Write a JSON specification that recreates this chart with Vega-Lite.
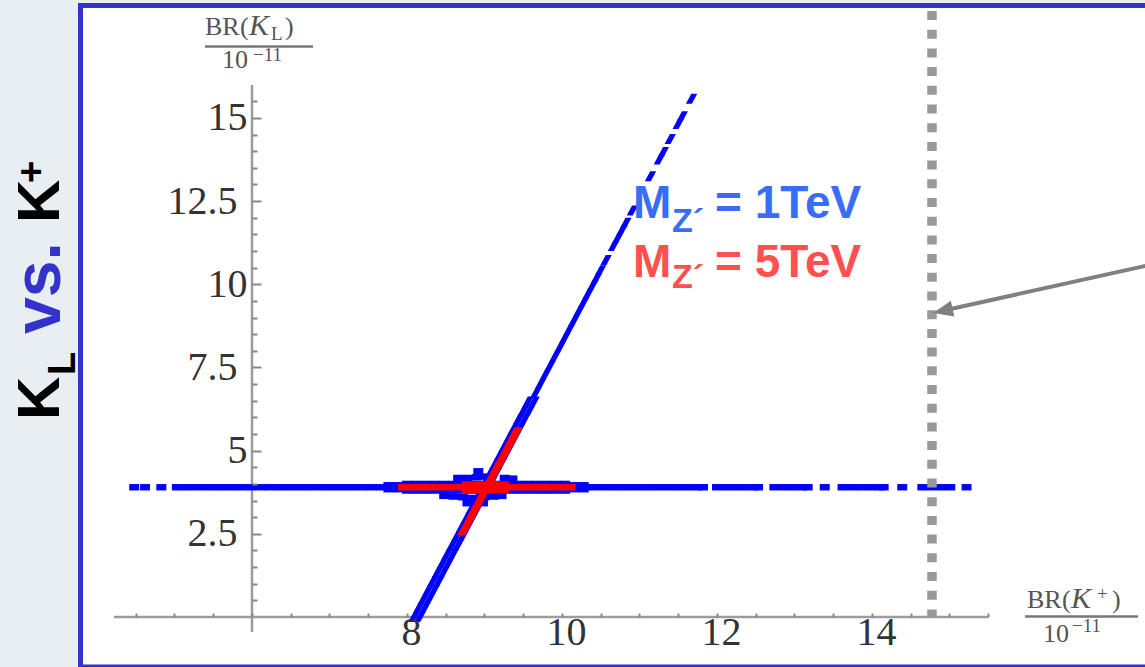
{
"$schema": "https://vega.github.io/schema/vega-lite/v6.json",
"width": 1145, "height": 667, "autosize": {"type": "none"}, "padding": 0,
"background": "#e8eef1",
"config": {"view": {"stroke": null}},
"resolve": {"axis": {"y": "independent"}},
"datasets": {
"pts": [
{"x":4.48,"y":3.9,"m":"1 TeV","b":"h"},{"x":4.62,"y":3.9,"m":"1 TeV","b":"h"},{"x":4.83,"y":3.9,"m":"1 TeV","b":"h"},{"x":5.03,"y":3.9,"m":"1 TeV","b":"h"},{"x":5.15,"y":3.9,"m":"1 TeV","b":"h"},{"x":5.27,"y":3.9,"m":"1 TeV","b":"h"},{"x":5.39,"y":3.9,"m":"1 TeV","b":"h"},{"x":5.51,"y":3.9,"m":"1 TeV","b":"h"},{"x":5.63,"y":3.9,"m":"1 TeV","b":"h"},{"x":5.75,"y":3.9,"m":"1 TeV","b":"h"},{"x":5.87,"y":3.9,"m":"1 TeV","b":"h"},{"x":5.99,"y":3.9,"m":"1 TeV","b":"h"},{"x":6.11,"y":3.9,"m":"1 TeV","b":"h"},{"x":6.23,"y":3.9,"m":"1 TeV","b":"h"},{"x":6.35,"y":3.9,"m":"1 TeV","b":"h"},{"x":6.47,"y":3.9,"m":"1 TeV","b":"h"},{"x":6.59,"y":3.9,"m":"1 TeV","b":"h"},{"x":6.71,"y":3.9,"m":"1 TeV","b":"h"},{"x":6.83,"y":3.9,"m":"1 TeV","b":"h"},{"x":6.95,"y":3.9,"m":"1 TeV","b":"h"},{"x":7.07,"y":3.9,"m":"1 TeV","b":"h"},{"x":7.19,"y":3.9,"m":"1 TeV","b":"h"},{"x":7.31,"y":3.9,"m":"1 TeV","b":"h"},{"x":7.43,"y":3.9,"m":"1 TeV","b":"h"},{"x":7.55,"y":3.9,"m":"1 TeV","b":"h"},{"x":7.67,"y":3.9,"m":"1 TeV","b":"h"},{"x":7.79,"y":3.9,"m":"1 TeV","b":"h"},{"x":7.91,"y":3.9,"m":"1 TeV","b":"h"},{"x":8.03,"y":3.9,"m":"1 TeV","b":"h"},{"x":8.15,"y":3.9,"m":"1 TeV","b":"h"},{"x":8.27,"y":3.9,"m":"1 TeV","b":"h"},{"x":8.39,"y":3.9,"m":"1 TeV","b":"h"},{"x":8.51,"y":3.9,"m":"1 TeV","b":"h"},{"x":8.63,"y":3.9,"m":"1 TeV","b":"h"},{"x":8.75,"y":3.9,"m":"1 TeV","b":"h"},{"x":8.87,"y":3.9,"m":"1 TeV","b":"h"},{"x":8.99,"y":3.9,"m":"1 TeV","b":"h"},{"x":9.11,"y":3.9,"m":"1 TeV","b":"h"},{"x":9.23,"y":3.9,"m":"1 TeV","b":"h"},{"x":9.35,"y":3.9,"m":"1 TeV","b":"h"},{"x":9.47,"y":3.9,"m":"1 TeV","b":"h"},{"x":9.59,"y":3.9,"m":"1 TeV","b":"h"},{"x":9.71,"y":3.9,"m":"1 TeV","b":"h"},{"x":9.83,"y":3.9,"m":"1 TeV","b":"h"},{"x":9.95,"y":3.9,"m":"1 TeV","b":"h"},{"x":10.07,"y":3.9,"m":"1 TeV","b":"h"},{"x":10.19,"y":3.9,"m":"1 TeV","b":"h"},{"x":10.31,"y":3.9,"m":"1 TeV","b":"h"},{"x":10.43,"y":3.9,"m":"1 TeV","b":"h"},{"x":10.55,"y":3.9,"m":"1 TeV","b":"h"},{"x":10.67,"y":3.9,"m":"1 TeV","b":"h"},{"x":10.79,"y":3.9,"m":"1 TeV","b":"h"},{"x":10.91,"y":3.9,"m":"1 TeV","b":"h"},{"x":11.03,"y":3.9,"m":"1 TeV","b":"h"},{"x":11.15,"y":3.9,"m":"1 TeV","b":"h"},{"x":11.27,"y":3.9,"m":"1 TeV","b":"h"},{"x":11.39,"y":3.9,"m":"1 TeV","b":"h"},{"x":11.51,"y":3.9,"m":"1 TeV","b":"h"},{"x":11.63,"y":3.9,"m":"1 TeV","b":"h"},{"x":11.75,"y":3.9,"m":"1 TeV","b":"h"},{"x":11.82,"y":3.9,"m":"1 TeV","b":"h"},{"x":12.0,"y":3.9,"m":"1 TeV","b":"h"},{"x":12.12,"y":3.9,"m":"1 TeV","b":"h"},{"x":12.24,"y":3.9,"m":"1 TeV","b":"h"},{"x":12.36,"y":3.9,"m":"1 TeV","b":"h"},{"x":12.48,"y":3.9,"m":"1 TeV","b":"h"},{"x":12.53,"y":3.9,"m":"1 TeV","b":"h"},{"x":12.74,"y":3.9,"m":"1 TeV","b":"h"},{"x":12.86,"y":3.9,"m":"1 TeV","b":"h"},{"x":12.98,"y":3.9,"m":"1 TeV","b":"h"},{"x":13.1,"y":3.9,"m":"1 TeV","b":"h"},{"x":13.17,"y":3.9,"m":"1 TeV","b":"h"},{"x":13.39,"y":3.9,"m":"1 TeV","b":"h"},{"x":13.62,"y":3.9,"m":"1 TeV","b":"h"},{"x":13.74,"y":3.9,"m":"1 TeV","b":"h"},{"x":13.86,"y":3.9,"m":"1 TeV","b":"h"},{"x":13.98,"y":3.9,"m":"1 TeV","b":"h"},{"x":14.1,"y":3.9,"m":"1 TeV","b":"h"},{"x":14.15,"y":3.9,"m":"1 TeV","b":"h"},{"x":14.39,"y":3.9,"m":"1 TeV","b":"h"},{"x":14.65,"y":3.9,"m":"1 TeV","b":"h"},{"x":14.77,"y":3.9,"m":"1 TeV","b":"h"},{"x":14.89,"y":3.9,"m":"1 TeV","b":"h"},{"x":15.01,"y":3.9,"m":"1 TeV","b":"h"},{"x":15.22,"y":3.9,"m":"1 TeV","b":"h"},
{"x":8.0,"y":4.0,"m":"1 TeV","b":"h"},{"x":8.12,"y":4.0,"m":"1 TeV","b":"h"},{"x":8.24,"y":4.0,"m":"1 TeV","b":"h"},{"x":8.36,"y":4.0,"m":"1 TeV","b":"h"},{"x":8.48,"y":4.0,"m":"1 TeV","b":"h"},{"x":8.6,"y":4.0,"m":"1 TeV","b":"h"},{"x":8.72,"y":4.0,"m":"1 TeV","b":"h"},{"x":8.84,"y":4.0,"m":"1 TeV","b":"h"},{"x":8.96,"y":4.0,"m":"1 TeV","b":"h"},{"x":9.08,"y":4.0,"m":"1 TeV","b":"h"},{"x":9.2,"y":4.0,"m":"1 TeV","b":"h"},{"x":9.32,"y":4.0,"m":"1 TeV","b":"h"},{"x":9.44,"y":4.0,"m":"1 TeV","b":"h"},{"x":9.56,"y":4.0,"m":"1 TeV","b":"h"},{"x":9.68,"y":4.0,"m":"1 TeV","b":"h"},{"x":9.8,"y":4.0,"m":"1 TeV","b":"h"},{"x":9.92,"y":4.0,"m":"1 TeV","b":"h"},{"x":10.04,"y":4.0,"m":"1 TeV","b":"h"},
{"x":8.0,"y":3.8,"m":"1 TeV","b":"h"},{"x":8.12,"y":3.8,"m":"1 TeV","b":"h"},{"x":8.24,"y":3.8,"m":"1 TeV","b":"h"},{"x":8.36,"y":3.8,"m":"1 TeV","b":"h"},{"x":8.48,"y":3.8,"m":"1 TeV","b":"h"},{"x":8.6,"y":3.8,"m":"1 TeV","b":"h"},{"x":8.72,"y":3.8,"m":"1 TeV","b":"h"},{"x":8.84,"y":3.8,"m":"1 TeV","b":"h"},{"x":8.96,"y":3.8,"m":"1 TeV","b":"h"},{"x":9.08,"y":3.8,"m":"1 TeV","b":"h"},{"x":9.2,"y":3.8,"m":"1 TeV","b":"h"},{"x":9.32,"y":3.8,"m":"1 TeV","b":"h"},{"x":9.44,"y":3.8,"m":"1 TeV","b":"h"},{"x":9.56,"y":3.8,"m":"1 TeV","b":"h"},{"x":9.68,"y":3.8,"m":"1 TeV","b":"h"},{"x":9.8,"y":3.8,"m":"1 TeV","b":"h"},{"x":9.92,"y":3.8,"m":"1 TeV","b":"h"},{"x":10.04,"y":3.8,"m":"1 TeV","b":"h"},
{"x":7.76,"y":3.96,"m":"1 TeV","b":"h"},{"x":7.88,"y":3.96,"m":"1 TeV","b":"h"},{"x":10.16,"y":3.96,"m":"1 TeV","b":"h"},{"x":10.28,"y":3.96,"m":"1 TeV","b":"h"},{"x":7.76,"y":3.84,"m":"1 TeV","b":"h"},{"x":7.88,"y":3.84,"m":"1 TeV","b":"h"},{"x":10.16,"y":3.84,"m":"1 TeV","b":"h"},{"x":10.28,"y":3.84,"m":"1 TeV","b":"h"},
{"x":8.66,"y":4.18,"m":"1 TeV","b":"h"},{"x":8.78,"y":4.18,"m":"1 TeV","b":"h"},{"x":8.9,"y":4.2,"m":"1 TeV","b":"h"},{"x":9.0,"y":4.22,"m":"1 TeV","b":"h"},{"x":9.26,"y":4.18,"m":"1 TeV","b":"h"},{"x":9.36,"y":4.16,"m":"1 TeV","b":"h"},{"x":8.92,"y":4.38,"m":"1 TeV","b":"h"},
{"x":8.48,"y":3.64,"m":"1 TeV","b":"h"},{"x":8.6,"y":3.62,"m":"1 TeV","b":"h"},{"x":8.72,"y":3.6,"m":"1 TeV","b":"h"},{"x":8.84,"y":3.58,"m":"1 TeV","b":"h"},{"x":9.0,"y":3.6,"m":"1 TeV","b":"h"},{"x":9.12,"y":3.62,"m":"1 TeV","b":"h"},{"x":9.22,"y":3.64,"m":"1 TeV","b":"h"},{"x":8.78,"y":3.42,"m":"1 TeV","b":"h"},{"x":8.98,"y":3.42,"m":"1 TeV","b":"h"},
{"x":8.089,"y":0.0,"m":"1 TeV","b":"d"},{"x":8.167,"y":0.0,"m":"1 TeV","b":"d"},{"x":8.150,"y":0.27,"m":"1 TeV","b":"d"},{"x":8.228,"y":0.27,"m":"1 TeV","b":"d"},{"x":8.212,"y":0.54,"m":"1 TeV","b":"d"},{"x":8.290,"y":0.54,"m":"1 TeV","b":"d"},{"x":8.273,"y":0.81,"m":"1 TeV","b":"d"},{"x":8.351,"y":0.81,"m":"1 TeV","b":"d"},{"x":8.335,"y":1.08,"m":"1 TeV","b":"d"},{"x":8.413,"y":1.08,"m":"1 TeV","b":"d"},{"x":8.396,"y":1.35,"m":"1 TeV","b":"d"},{"x":8.474,"y":1.35,"m":"1 TeV","b":"d"},{"x":8.458,"y":1.62,"m":"1 TeV","b":"d"},{"x":8.536,"y":1.62,"m":"1 TeV","b":"d"},{"x":8.519,"y":1.89,"m":"1 TeV","b":"d"},{"x":8.597,"y":1.89,"m":"1 TeV","b":"d"},{"x":8.580,"y":2.16,"m":"1 TeV","b":"d"},{"x":8.658,"y":2.16,"m":"1 TeV","b":"d"},{"x":8.642,"y":2.43,"m":"1 TeV","b":"d"},{"x":8.720,"y":2.43,"m":"1 TeV","b":"d"},{"x":8.703,"y":2.70,"m":"1 TeV","b":"d"},{"x":8.781,"y":2.70,"m":"1 TeV","b":"d"},{"x":8.765,"y":2.97,"m":"1 TeV","b":"d"},{"x":8.843,"y":2.97,"m":"1 TeV","b":"d"},{"x":8.826,"y":3.24,"m":"1 TeV","b":"d"},{"x":8.904,"y":3.24,"m":"1 TeV","b":"d"},{"x":8.887,"y":3.51,"m":"1 TeV","b":"d"},{"x":8.965,"y":3.51,"m":"1 TeV","b":"d"},{"x":8.949,"y":3.78,"m":"1 TeV","b":"d"},{"x":9.027,"y":3.78,"m":"1 TeV","b":"d"},{"x":9.010,"y":4.05,"m":"1 TeV","b":"d"},{"x":9.088,"y":4.05,"m":"1 TeV","b":"d"},{"x":9.072,"y":4.32,"m":"1 TeV","b":"d"},{"x":9.150,"y":4.32,"m":"1 TeV","b":"d"},{"x":9.133,"y":4.59,"m":"1 TeV","b":"d"},{"x":9.211,"y":4.59,"m":"1 TeV","b":"d"},{"x":9.195,"y":4.86,"m":"1 TeV","b":"d"},{"x":9.273,"y":4.86,"m":"1 TeV","b":"d"},{"x":9.256,"y":5.13,"m":"1 TeV","b":"d"},{"x":9.334,"y":5.13,"m":"1 TeV","b":"d"},{"x":9.317,"y":5.40,"m":"1 TeV","b":"d"},{"x":9.395,"y":5.40,"m":"1 TeV","b":"d"},{"x":9.379,"y":5.67,"m":"1 TeV","b":"d"},{"x":9.457,"y":5.67,"m":"1 TeV","b":"d"},{"x":9.440,"y":5.94,"m":"1 TeV","b":"d"},{"x":9.518,"y":5.94,"m":"1 TeV","b":"d"},{"x":9.502,"y":6.21,"m":"1 TeV","b":"d"},{"x":9.580,"y":6.21,"m":"1 TeV","b":"d"},{"x":9.563,"y":6.48,"m":"1 TeV","b":"d"},{"x":9.641,"y":6.48,"m":"1 TeV","b":"d"},
{"x":9.664,"y":6.75,"m":"1 TeV","b":"d"},{"x":9.725,"y":7.02,"m":"1 TeV","b":"d"},{"x":9.786,"y":7.29,"m":"1 TeV","b":"d"},{"x":9.848,"y":7.56,"m":"1 TeV","b":"d"},{"x":9.909,"y":7.83,"m":"1 TeV","b":"d"},{"x":9.971,"y":8.10,"m":"1 TeV","b":"d"},{"x":10.032,"y":8.37,"m":"1 TeV","b":"d"},{"x":10.093,"y":8.64,"m":"1 TeV","b":"d"},{"x":10.155,"y":8.91,"m":"1 TeV","b":"d"},{"x":10.216,"y":9.18,"m":"1 TeV","b":"d"},{"x":10.278,"y":9.45,"m":"1 TeV","b":"d"},{"x":10.339,"y":9.72,"m":"1 TeV","b":"d"},{"x":10.400,"y":9.99,"m":"1 TeV","b":"d"},
{"x":10.448,"y":10.2,"m":"1 TeV","b":"d"},{"x":10.498,"y":10.42,"m":"1 TeV","b":"d"},{"x":10.569,"y":10.73,"m":"1 TeV","b":"d"},{"x":10.664,"y":11.15,"m":"1 TeV","b":"d"},{"x":10.721,"y":11.4,"m":"1 TeV","b":"d"},{"x":10.778,"y":11.65,"m":"1 TeV","b":"d"},{"x":10.824,"y":11.85,"m":"1 TeV","b":"d"},{"x":10.908,"y":12.22,"m":"1 TeV","b":"d"},{"x":11.142,"y":13.25,"m":"1 TeV","b":"d"},{"x":11.256,"y":13.75,"m":"1 TeV","b":"d"},{"x":11.308,"y":13.98,"m":"1 TeV","b":"d"},{"x":11.397,"y":14.37,"m":"1 TeV","b":"d"},{"x":11.499,"y":14.82,"m":"1 TeV","b":"d"},{"x":11.552,"y":15.05,"m":"1 TeV","b":"d"},{"x":11.672,"y":15.58,"m":"1 TeV","b":"d"},
{"x":7.95,"y":3.9,"m":"5 TeV","b":"h"},{"x":8.07,"y":3.9,"m":"5 TeV","b":"h"},{"x":8.19,"y":3.9,"m":"5 TeV","b":"h"},{"x":8.31,"y":3.9,"m":"5 TeV","b":"h"},{"x":8.43,"y":3.9,"m":"5 TeV","b":"h"},{"x":8.55,"y":3.9,"m":"5 TeV","b":"h"},{"x":8.67,"y":3.9,"m":"5 TeV","b":"h"},{"x":8.79,"y":3.9,"m":"5 TeV","b":"h"},{"x":8.91,"y":3.9,"m":"5 TeV","b":"h"},{"x":9.03,"y":3.9,"m":"5 TeV","b":"h"},{"x":9.15,"y":3.9,"m":"5 TeV","b":"h"},{"x":9.27,"y":3.9,"m":"5 TeV","b":"h"},{"x":9.39,"y":3.9,"m":"5 TeV","b":"h"},{"x":9.51,"y":3.9,"m":"5 TeV","b":"h"},{"x":9.63,"y":3.9,"m":"5 TeV","b":"h"},{"x":9.75,"y":3.9,"m":"5 TeV","b":"h"},{"x":9.87,"y":3.9,"m":"5 TeV","b":"h"},{"x":9.99,"y":3.9,"m":"5 TeV","b":"h"},{"x":10.11,"y":3.9,"m":"5 TeV","b":"h"},
{"x":8.77,"y":3.98,"m":"5 TeV","b":"h"},{"x":8.89,"y":3.98,"m":"5 TeV","b":"h"},{"x":9.01,"y":3.98,"m":"5 TeV","b":"h"},{"x":9.13,"y":3.98,"m":"5 TeV","b":"h"},{"x":9.25,"y":3.98,"m":"5 TeV","b":"h"},{"x":8.77,"y":3.82,"m":"5 TeV","b":"h"},{"x":8.89,"y":3.82,"m":"5 TeV","b":"h"},{"x":9.01,"y":3.82,"m":"5 TeV","b":"h"},{"x":9.13,"y":3.82,"m":"5 TeV","b":"h"},{"x":9.25,"y":3.82,"m":"5 TeV","b":"h"},
{"x":8.719,"y":2.6,"m":"5 TeV","b":"d"},{"x":8.781,"y":2.87,"m":"5 TeV","b":"d"},{"x":8.842,"y":3.14,"m":"5 TeV","b":"d"},{"x":8.904,"y":3.41,"m":"5 TeV","b":"d"},{"x":8.965,"y":3.68,"m":"5 TeV","b":"d"},{"x":9.027,"y":3.95,"m":"5 TeV","b":"d"},{"x":9.088,"y":4.22,"m":"5 TeV","b":"d"},{"x":9.149,"y":4.49,"m":"5 TeV","b":"d"},{"x":9.211,"y":4.76,"m":"5 TeV","b":"d"},{"x":9.272,"y":5.03,"m":"5 TeV","b":"d"},{"x":9.334,"y":5.30,"m":"5 TeV","b":"d"},{"x":9.391,"y":5.55,"m":"5 TeV","b":"d"},
{"x":8.749,"y":2.6,"m":"5 TeV","b":"d"},{"x":8.811,"y":2.87,"m":"5 TeV","b":"d"},{"x":8.872,"y":3.14,"m":"5 TeV","b":"d"},{"x":8.934,"y":3.41,"m":"5 TeV","b":"d"},{"x":8.995,"y":3.68,"m":"5 TeV","b":"d"},{"x":9.057,"y":3.95,"m":"5 TeV","b":"d"},{"x":9.118,"y":4.22,"m":"5 TeV","b":"d"},{"x":9.179,"y":4.49,"m":"5 TeV","b":"d"},{"x":9.241,"y":4.76,"m":"5 TeV","b":"d"},{"x":9.302,"y":5.03,"m":"5 TeV","b":"d"},{"x":9.364,"y":5.30,"m":"5 TeV","b":"d"},{"x":9.421,"y":5.55,"m":"5 TeV","b":"d"}
]
},
"layer": [
{
"data": {"values": [{"x1": 3.7871, "x2": 17.60, "y1": 18.380, "y2": -1.503}]},
"mark": {"type": "rect", "fill": "white", "stroke": "#3333cc", "strokeWidth": 5},
"encoding": {
"x": {"field": "x1", "type": "quantitative", "scale": {"domain": [2.7484, 17.5226], "nice": false, "zero": false}},
"x2": {"field": "x2"},
"y": {"field": "y1", "type": "quantitative", "scale": {"domain": [-1.503, 18.5452], "nice": false, "zero": false}, "axis": null},
"y2": {"field": "y2"}
}
},
{
"data": {"values": [{"x1": 4.219, "x2": 15.497, "y1": 0, "y2": 0}, {"x1": 6, "x2": 6, "y1": -0.45, "y2": 15.99}]},
"mark": {"type": "rule", "color": "#9c9c9c", "strokeWidth": 2.5},
"encoding": {
"x": {"field": "x1", "type": "quantitative"},
"x2": {"field": "x2"},
"y": {"field": "y1", "type": "quantitative",
 "axis": {"orient": "left", "offset": -252, "zindex": 1, "domain": false, "grid": false, "title": null, "labels": false,
 "values": [0.5,1,1.5,2,3,3.5,4,4.5,5.5,6,6.5,7,8,8.5,9,9.5,10.5,11,11.5,12,13,13.5,14,14.5,15.5],
 "tickSize": -5, "tickColor": "#888888", "tickWidth": 2}},
"y2": {"field": "y2"}
}
},
{
"data": {"name": "pts"},
"mark": {"type": "point", "filled": true, "size": 100, "opacity": 1, "strokeWidth": 0},
"encoding": {
"x": {"field": "x", "type": "quantitative",
 "axis": {"orient": "bottom", "offset": -50, "zindex": 1, "domain": false, "grid": false, "title": null,
 "values": [4.5,5,5.5,6,6.5,7,7.5,8,8.5,9,9.5,10,10.5,11,11.5,12,12.5,13,13.5,14,14.5,15,15.5],
 "tickSize": -4, "tickColor": "#888888", "tickWidth": 2,
 "labelExpr": "datum.value >= 8 && datum.value % 2 == 0 ? toString(datum.value) : ''",
 "labelFont": "Liberation Serif", "labelFontSize": 40, "labelColor": "#333333", "labelBaseline": "top",
 "labelPadding": -1, "labelOffset": 4, "labelOverlap": false, "labelFlush": false}},
"y": {"field": "y", "type": "quantitative",
 "axis": {"orient": "left", "offset": -252, "zindex": 1, "domain": false, "grid": false, "title": null,
 "values": [2.5,5,7.5,10,12.5,15],
 "tickSize": -9, "tickColor": "#888888", "tickWidth": 2,
 "labelExpr": "datum.value % 1 == 0 ? toString(datum.value) : ''",
 "labelFont": "Liberation Serif", "labelFontSize": 40, "labelColor": "#333333", "labelAlign": "right", "labelBaseline": "middle",
 "labelPadding": 14, "labelOverlap": false, "labelFlush": false}},
"color": {"field": "m", "type": "nominal", "scale": {"domain": ["1 TeV", "5 TeV"], "range": ["#0000ff", "#ff0000"]}, "legend": null},
"shape": {"field": "b", "type": "nominal", "scale": {"domain": ["h", "d"], "range": ["M-1,-0.64L1,-0.64L1,0.64L-1,0.64Z", "M-0.067,-1L1.133,-1L0.067,1L-1.133,1Z"]}, "legend": null}
}
},
{
"data": {"values": [{"x": 14.774, "y1": 18.215, "y2": 0}]},
"mark": {"type": "rule", "color": "#999999", "strokeWidth": 9.5, "strokeDash": [9, 9.7]},
"encoding": {
"x": {"field": "x", "type": "quantitative"},
"y": {"field": "y1", "type": "quantitative",
 "axis": {"orient": "left", "offset": -252, "zindex": 1, "domain": false, "grid": false, "title": null, "ticks": false, "tickSize": 0,
 "values": [2.5,7.5,12.5],
 "labelExpr": "toString(datum.value)",
 "labelFont": "Liberation Serif", "labelFontSize": 40, "labelColor": "#333333", "labelAlign": "right", "labelBaseline": "middle",
 "labelPadding": 15, "labelOverlap": false, "labelFlush": false}},
"y2": {"field": "y2"}
}
},
{
"data": {"values": [{"x1": 17.587, "y1": 10.584, "x2": 14.942, "y2": 9.219}]},
"mark": {"type": "rule", "color": "#808080", "strokeWidth": 4},
"encoding": {
"x": {"field": "x1", "type": "quantitative"},
"x2": {"field": "x2"},
"y": {"field": "y1", "type": "quantitative", "axis": null},
"y2": {"field": "y2"}
}
},
{
"data": {"values": [{"x": 14.914, "y": 9.204}]},
"mark": {"type": "point", "shape": "M1,0L-1,-0.8L-1,0.8Z", "size": 400, "angle": 167.5, "filled": true, "color": "#808080", "opacity": 1, "strokeWidth": 0},
"encoding": {
"x": {"field": "x", "type": "quantitative"},
"y": {"field": "y", "type": "quantitative", "axis": null}
}
},
{
"data": {"values": [{"x1": 5.3936, "x2": 6.7871, "y": 17.148}, {"x1": 15.9742, "x2": 17.4323, "y": 0.015}]},
"mark": {"type": "rule", "color": "#777777", "strokeWidth": 2.5},
"encoding": {
"x": {"field": "x1", "type": "quantitative"},
"x2": {"field": "x2"},
"y": {"field": "y", "type": "quantitative", "axis": null}
}
},
{
"data": {"values": [{"t": "BR", "x": 5.3936, "y": 17.493}, {"t": "(", "x": 5.8452, "y": 17.493}, {"t": ")", "x": 6.4258, "y": 17.493}, {"t": "10", "x": 5.6129, "y": 16.501}, {"t": "BR", "x": 16.0, "y": 0.2705}, {"t": "(", "x": 16.4516, "y": 0.2705}, {"t": ")", "x": 17.0968, "y": 0.2705}, {"t": "10", "x": 16.2065, "y": -0.7514}]},
"mark": {"type": "text", "font": "Liberation Serif", "fontSize": 26, "color": "#555555", "align": "left", "baseline": "alphabetic"},
"encoding": {
"x": {"field": "x", "type": "quantitative"},
"y": {"field": "y", "type": "quantitative", "axis": null},
"text": {"field": "t"}
}
},
{
"data": {"values": [{"t": "K", "x": 5.9613, "y": 17.493}, {"t": "K", "x": 16.5678, "y": 0.2705}]},
"mark": {"type": "text", "font": "Liberation Serif", "fontStyle": "italic", "fontSize": 30, "color": "#555555", "align": "left", "baseline": "alphabetic"},
"encoding": {
"x": {"field": "x", "type": "quantitative"},
"y": {"field": "y", "type": "quantitative", "axis": null},
"text": {"field": "t"}
}
},
{
"data": {"values": [{"t": "L", "x": 6.2452, "y": 17.343}, {"t": "−11", "x": 6.0129, "y": 16.712}, {"t": "+", "x": 16.9032, "y": 0.511}, {"t": "−11", "x": 16.5807, "y": -0.4509}]},
"mark": {"type": "text", "font": "Liberation Serif", "fontSize": 19, "color": "#555555", "align": "left", "baseline": "alphabetic"},
"encoding": {
"x": {"field": "x", "type": "quantitative"},
"y": {"field": "y", "type": "quantitative", "axis": null},
"text": {"field": "t"}
}
},
{
"data": {"values": [{"t": "K", "x": 3.5097, "y": 5.921}, {"t": "K", "x": 3.5097, "y": 11.843}]},
"mark": {"type": "text", "font": "Liberation Sans", "fontWeight": "bold", "fontSize": 60, "color": "#000000", "angle": 270, "align": "left", "baseline": "alphabetic"},
"encoding": {
"x": {"field": "x", "type": "quantitative"},
"y": {"field": "y", "type": "quantitative", "axis": null},
"text": {"field": "t"}
}
},
{
"data": {"values": [{"t": "L", "x": 3.716, "y": 7.274}, {"t": "+", "x": 3.316, "y": 13.045}]},
"mark": {"type": "text", "font": "Liberation Sans", "fontWeight": "bold", "fontSize": 38, "color": "#000000", "angle": 270, "align": "left", "baseline": "alphabetic"},
"encoding": {
"x": {"field": "x", "type": "quantitative"},
"y": {"field": "y", "type": "quantitative", "axis": null},
"text": {"field": "t"}
}
},
{
"data": {"values": [{"t": "vs.", "x": 3.5226, "y": 8.506}]},
"mark": {"type": "text", "font": "Liberation Sans", "fontWeight": "bold", "fontSize": 66, "color": "#3333cc", "angle": 270, "align": "left", "baseline": "alphabetic"},
"encoding": {
"x": {"field": "x", "type": "quantitative"},
"y": {"field": "y", "type": "quantitative", "axis": null},
"text": {"field": "t"}
}
},
{
"data": {"values": [{"t": "M", "x": 10.916, "y": 11.993}, {"t": "= 1TeV", "x": 11.974, "y": 11.993}]},
"mark": {"type": "text", "font": "Liberation Sans", "fontWeight": "bold", "fontSize": 46, "color": "#3b6cf5", "align": "left", "baseline": "alphabetic"},
"encoding": {
"x": {"field": "x", "type": "quantitative"},
"y": {"field": "y", "type": "quantitative", "axis": null},
"text": {"field": "t"}
}
},
{
"data": {"values": [{"t": "M", "x": 10.916, "y": 10.219}, {"t": "= 5TeV", "x": 11.974, "y": 10.219}]},
"mark": {"type": "text", "font": "Liberation Sans", "fontWeight": "bold", "fontSize": 46, "color": "#ff5050", "align": "left", "baseline": "alphabetic"},
"encoding": {
"x": {"field": "x", "type": "quantitative"},
"y": {"field": "y", "type": "quantitative", "axis": null},
"text": {"field": "t"}
}
},
{
"data": {"values": [{"t": "Z´", "x": 11.419, "y": 11.572}]},
"mark": {"type": "text", "font": "Liberation Sans", "fontWeight": "bold", "fontSize": 34, "color": "#3b6cf5", "align": "left", "baseline": "alphabetic"},
"encoding": {
"x": {"field": "x", "type": "quantitative"},
"y": {"field": "y", "type": "quantitative", "axis": null},
"text": {"field": "t"}
}
},
{
"data": {"values": [{"t": "Z´", "x": 11.419, "y": 9.889}]},
"mark": {"type": "text", "font": "Liberation Sans", "fontWeight": "bold", "fontSize": 34, "color": "#ff5050", "align": "left", "baseline": "alphabetic"},
"encoding": {
"x": {"field": "x", "type": "quantitative"},
"y": {"field": "y", "type": "quantitative", "axis": null},
"text": {"field": "t"}
}
}
]
}
